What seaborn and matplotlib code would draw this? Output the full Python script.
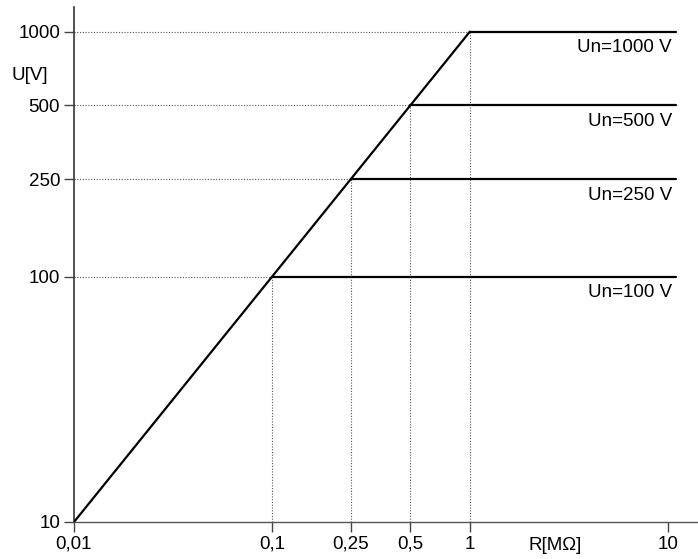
import seaborn as sns
import pandas as pd
import matplotlib.pyplot as plt

# test voltages and the minimum insulation resistance for each
voltages = [100, 250, 500, 1000]
r_min = [0.1, 0.25, 0.5, 1]
r_end = 11
diag_r = [0.01, 1]
diag_u = [10, 1000]

x_ticks = [0.01, 0.1, 0.25, 0.5, 1, 10]
x_labels = ["0,01", "0,1", "0,25", "0,5", "1", "10"]
y_ticks = [10, 100, 250, 500, 1000]
y_labels = ["10", "100", "250", "500", "1000"]

sns.set_style("ticks")
plt.rcParams["font.family"] = ["Liberation Sans", "DejaVu Sans"]
plt.rcParams["text.color"] = "black"

fs = 13.5
fig = plt.figure(figsize=(6.98, 5.59), dpi=100)
ax = fig.add_axes([74 / 698, 37 / 559, 624 / 698, 515 / 559])

# dotted guide lines up to the limit curve
for u, r in zip(voltages, r_min):
    ax.plot([0.01, r], [u, u], color="#555555", lw=0.8, ls=(0, (1, 1.5)), zorder=1)
    ax.plot([r, r], [10, u], color="#555555", lw=0.8, ls=(0, (1, 1.5)), zorder=1)

diag = pd.DataFrame({"R": diag_r, "U": diag_u})
sns.lineplot(data=diag, x="R", y="U", color="black", lw=1.6, ax=ax, zorder=3)
for u, r in zip(voltages, r_min):
    seg = pd.DataFrame({"R": [r, r_end], "U": [u, u]})
    sns.lineplot(data=seg, x="R", y="U", color="black", lw=1.6, ax=ax, zorder=3)
    ax.annotate(f"Un={u} V", xy=(r_end, u), xytext=(-4, -16),
                textcoords="offset pixels", ha="right", va="center",
                fontsize=fs, color="black")

ax.set_xscale("log")
ax.set_yscale("log")
ax.set_xlim(0.01, 14.2)
ax.set_ylim(10, 1260)
ax.set_xticks(x_ticks, x_labels)
ax.set_yticks(y_ticks, y_labels)
ax.minorticks_off()
ax.tick_params(axis="both", which="major", direction="out", length=7, width=1,
               color="#444444", labelsize=fs, labelcolor="black", pad=3,
               bottom=True, left=True)
ax.set_xlabel("")
ax.set_ylabel("")

for s in ["top", "right"]:
    ax.spines[s].set_visible(False)
ax.spines["left"].set_color("#333333")
ax.spines["left"].set_linewidth(1.2)
ax.spines["bottom"].set_color("#555555")
ax.spines["bottom"].set_linewidth(1.0)

fig.text(30 / 698, 1 - 75 / 559, "U[V]", ha="center", va="center", fontsize=fs)
fig.text(555 / 698, 1 - 545 / 559, "R[M\u03a9]", ha="center", va="center", fontsize=fs)

fig.savefig("out.png", dpi=100)
